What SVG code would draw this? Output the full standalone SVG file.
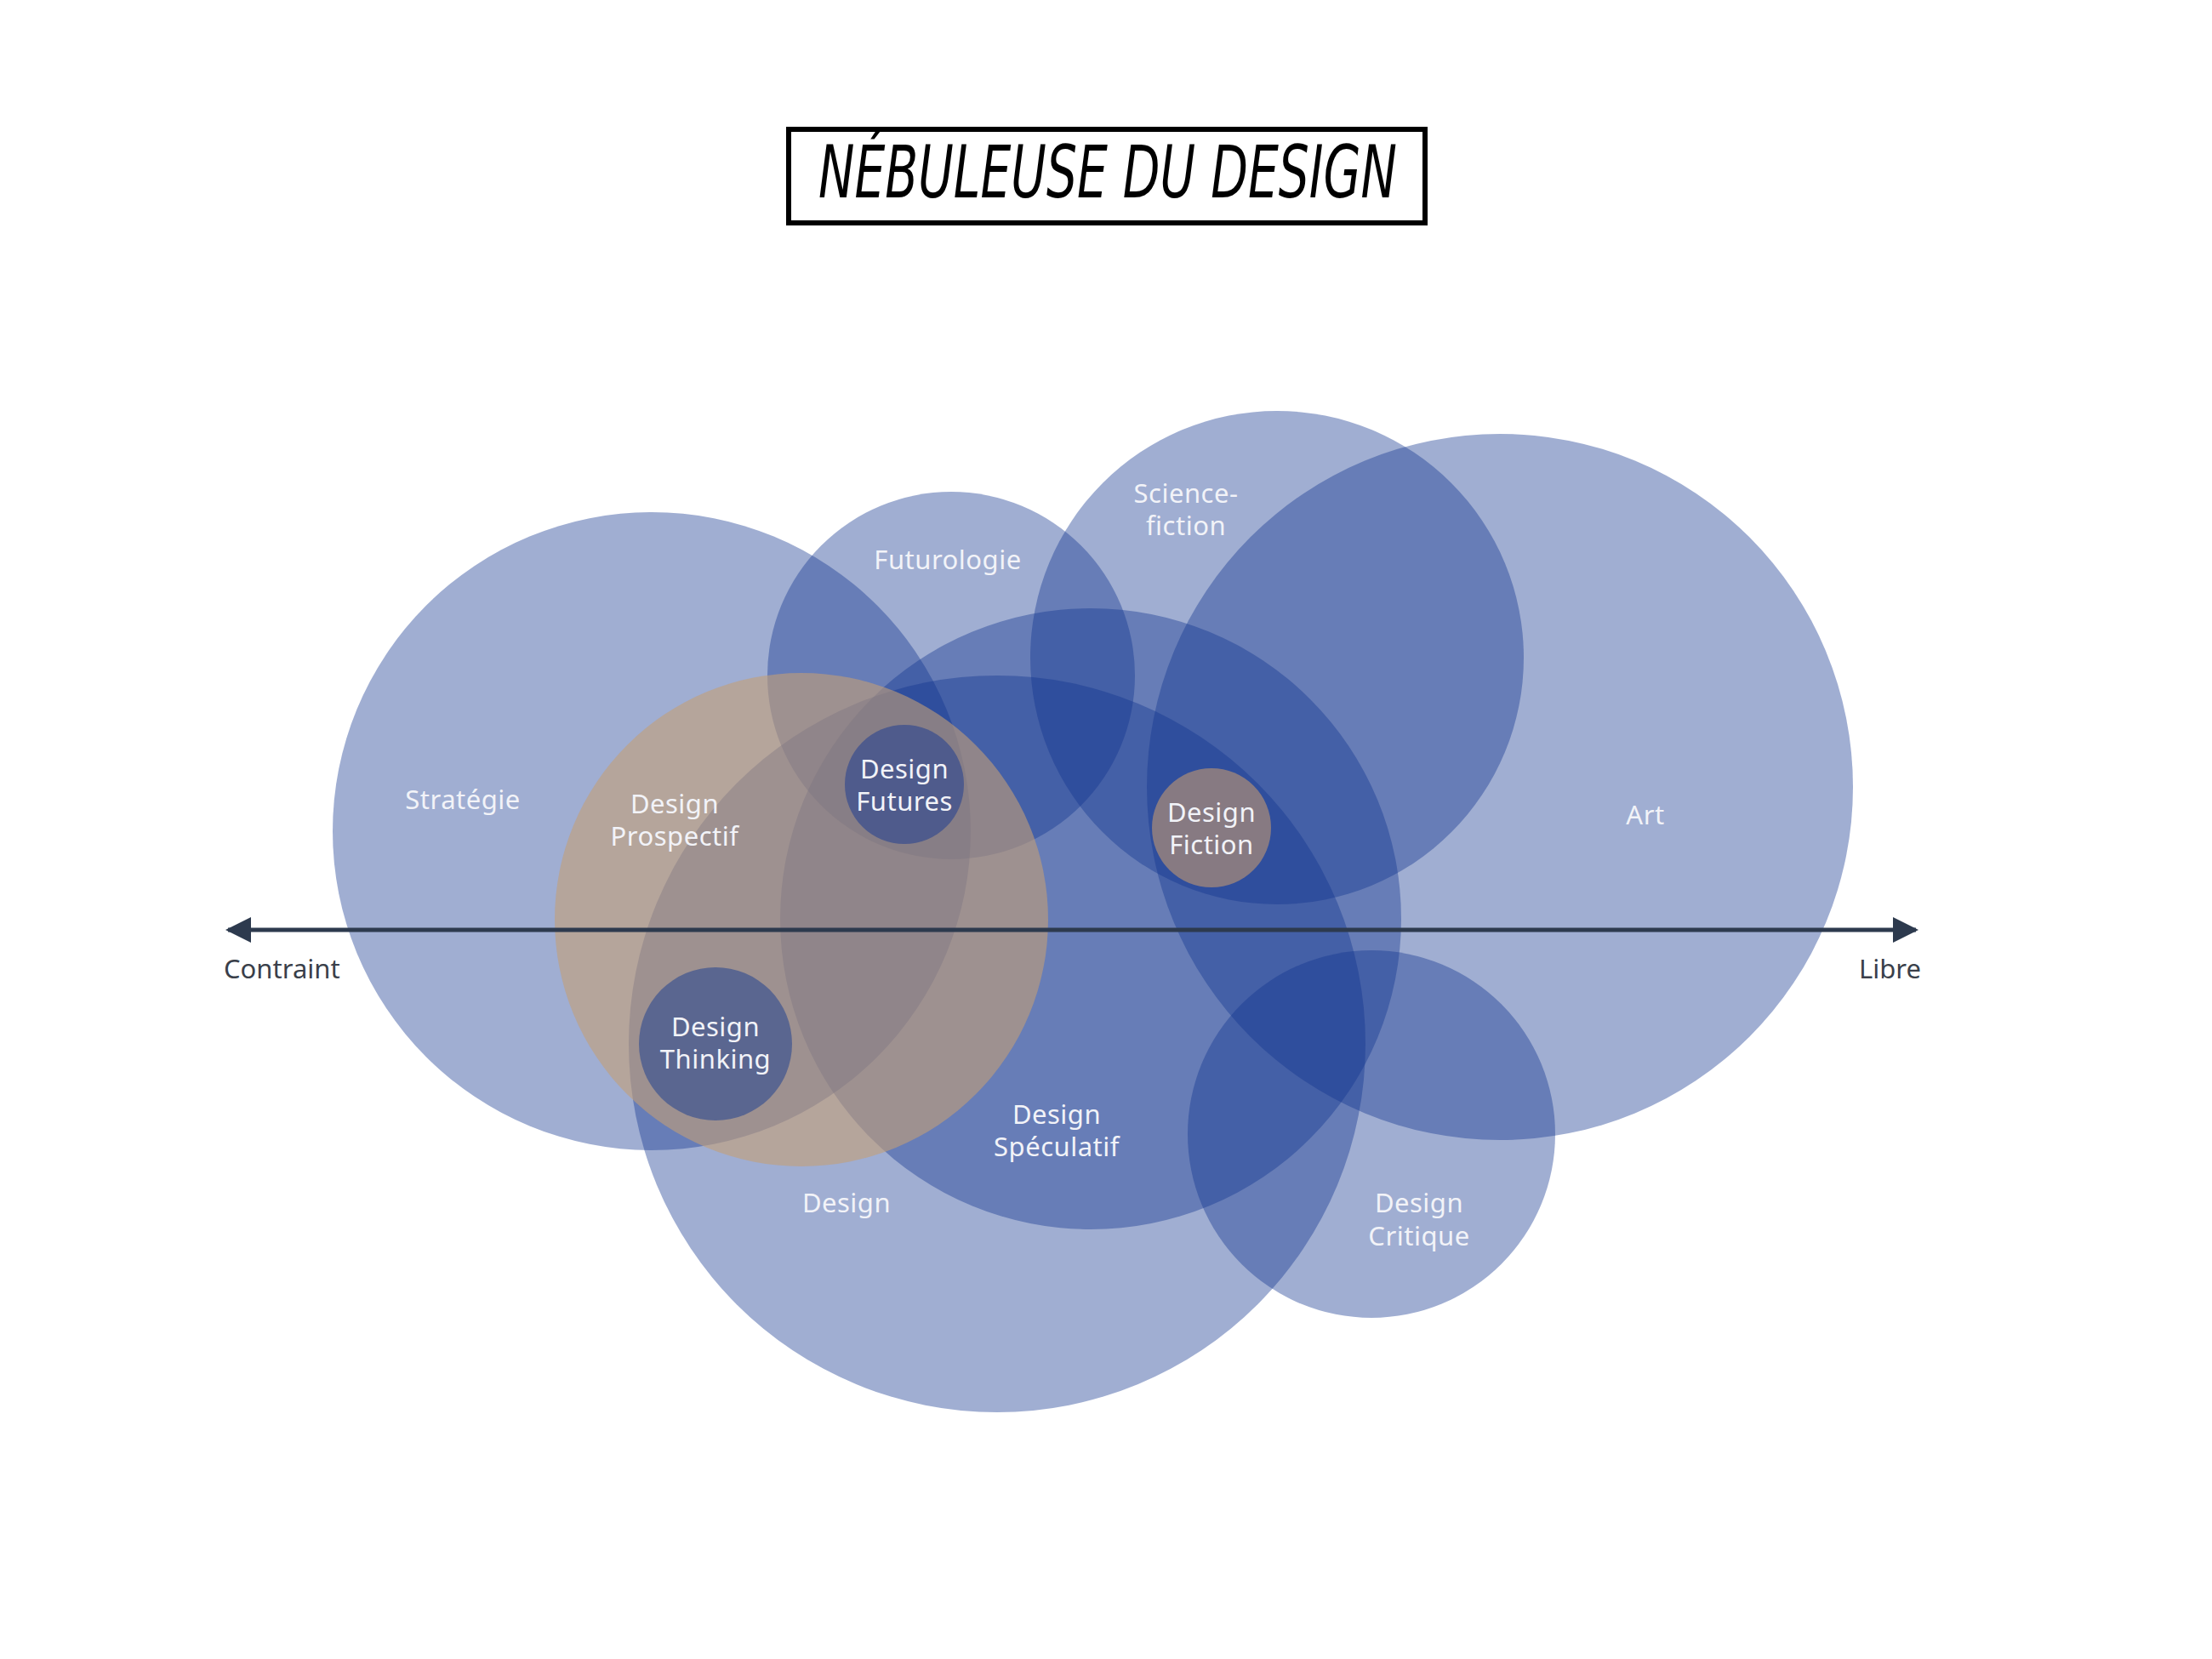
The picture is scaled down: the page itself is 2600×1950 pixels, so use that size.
<svg xmlns="http://www.w3.org/2000/svg" width="2600" height="1950" viewBox="0 0 2600 1950">
<style>
.blob{fill:#11358f;fill-opacity:0.4}
.lbl{font-family:"Noto Sans","Liberation Sans",sans-serif;font-size:31px;fill:#f2f3f8;text-anchor:middle;letter-spacing:0.5px}
.ax{font-family:"Noto Sans","Liberation Sans",sans-serif;font-size:31px;fill:#3a3f4a}
</style>
<defs>
<marker id="ah" viewBox="0 0 10 10" refX="9" refY="5" markerWidth="6" markerHeight="6" markerUnits="strokeWidth" orient="auto-start-reverse">
<path d="M0,0 L10,5 L0,10 Z" fill="#2d3a4e"/>
</marker>
</defs>
<rect width="2600" height="1950" fill="#ffffff"/>
<g id="title">
<rect x="927" y="152" width="748" height="110" fill="#ffffff" stroke="#000000" stroke-width="6"/>
<text x="1302" y="232" font-family="'DejaVu Sans','Liberation Sans',sans-serif" font-size="86" font-style="italic" text-anchor="middle" textLength="680" lengthAdjust="spacingAndGlyphs" fill="#000000">NÉBULEUSE DU DESIGN</text>
</g>
<g id="strategie"><circle class="blob" cx="766" cy="977" r="375"/></g>
<g id="futurologie"><circle class="blob" cx="1118" cy="794" r="216"/></g>
<g id="science-fiction"><circle class="blob" cx="1501" cy="773" r="290"/></g>
<g id="art"><circle class="blob" cx="1763" cy="925" r="415"/></g>
<g id="design-speculatif"><circle class="blob" cx="1282" cy="1080" r="365"/></g>
<g id="design"><circle class="blob" cx="1172" cy="1227" r="433"/></g>
<g id="design-critique"><circle class="blob" cx="1612" cy="1333" r="216"/></g>
<g id="design-prospectif"><circle cx="942" cy="1081" r="290" fill="#c39f76" fill-opacity="0.6"/></g>
<g id="connectors">
<line x1="268" y1="1093" x2="2252" y2="1093" stroke="#2d3a4e" stroke-width="5" marker-start="url(#ah)" marker-end="url(#ah)"/>
</g>
<g id="design-futures"><circle cx="1063" cy="922" r="70" fill="#4f5b8c"/></g>
<g id="design-fiction"><circle cx="1424" cy="973" r="70" fill="#877a82"/></g>
<g id="design-thinking"><circle cx="841" cy="1227" r="90" fill="#5a6690"/></g>
<g id="labels">
<text class="lbl" x="544" y="951">Stratégie</text>
<text class="lbl" x="1114" y="669">Futurologie</text>
<text class="lbl" x="1394" y="591">Science-</text>
<text class="lbl" x="1394" y="629">fiction</text>
<text class="lbl" x="1934" y="969">Art</text>
<text class="lbl" x="793" y="956">Design</text>
<text class="lbl" x="793" y="994">Prospectif</text>
<text class="lbl" x="1063" y="915">Design</text>
<text class="lbl" x="1063" y="953">Futures</text>
<text class="lbl" x="1424" y="966">Design</text>
<text class="lbl" x="1424" y="1004">Fiction</text>
<text class="lbl" x="841" y="1218">Design</text>
<text class="lbl" x="841" y="1256">Thinking</text>
<text class="lbl" x="1242" y="1321">Design</text>
<text class="lbl" x="1242" y="1359">Spéculatif</text>
<text class="lbl" x="995" y="1425">Design</text>
<text class="lbl" x="1668" y="1425">Design</text>
<text class="lbl" x="1668" y="1464">Critique</text>
<text class="ax" x="263" y="1150">Contraint</text>
<text class="ax" x="2258" y="1150" text-anchor="end">Libre</text>
</g>
</svg>
